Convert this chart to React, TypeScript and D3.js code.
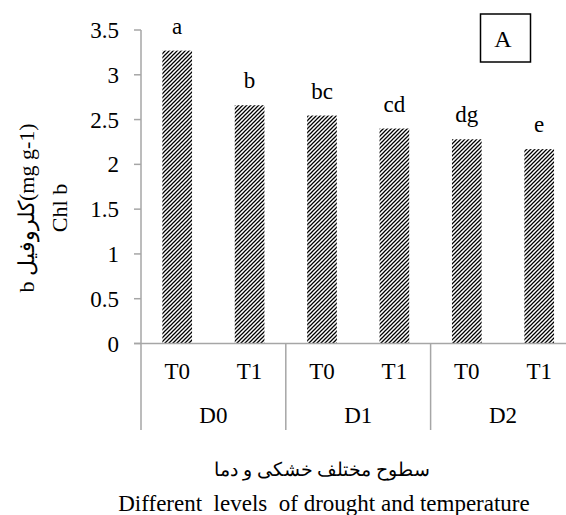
import React from "react";
import * as d3 from "d3";

const categories = ["T0", "T1", "T0", "T1", "T0", "T1"];
const groups = ["D0", "D1", "D2"];
const values = [3.27, 2.66, 2.545, 2.4, 2.28, 2.17];
const letters = ["a", "b", "bc", "cd", "dg", "e"];
const yTicks = [0, 0.5, 1, 1.5, 2, 2.5, 3, 3.5];

const W = 566;
const H = 515;
const serif = "Liberation Serif, Times New Roman, serif";
const axisColor = "#a6a6a6";

export default function App() {
  const y = d3.scaleLinear().domain([0, 3.5]).range([343.5, 30]);
  const x = d3
    .scaleBand<number>()
    .domain(d3.range(categories.length))
    .range([141, 575.4])
    .paddingInner(0.59)
    .paddingOuter(0.295);
  const step = x.step();
  const left = 141;
  const groupSize = 2;
  const fs = 23;

  return (
    <svg
      width={W}
      height={H}
      style={{ position: "absolute", left: 0, top: 0, background: "#fff" }}
    >
      <defs>
        <pattern id="hatch" patternUnits="userSpaceOnUse" width={4} height={4}>
          <rect width={4} height={4} fill="#fff" />
          <path d="M-1,1 l2,-2 M0,4 l4,-4 M3,5 l2,-2" stroke="#000" strokeWidth={1.25} />
        </pattern>
      </defs>
      <rect width={W} height={H} fill="#fff" />

      {values.map((v, i) => (
        <rect
          key={"b" + i}
          x={x(i)}
          y={y(v)}
          width={x.bandwidth()}
          height={y(0) - y(v)}
          fill="url(#hatch)"
        />
      ))}

      {values.map((v, i) => (
        <text
          key={"l" + i}
          x={(x(i) as number) + x.bandwidth() / 2}
          y={y(v) - 17}
          textAnchor="middle"
          fontFamily={serif}
          fontSize={fs}
          fill="#000"
        >
          {letters[i]}
        </text>
      ))}

      <line x1={left} x2={left} y1={y(3.5)} y2={430} stroke={axisColor} strokeWidth={1.5} />
      {yTicks.map((t) => (
        <g key={"t" + t}>
          <line x1={134} x2={left} y1={y(t)} y2={y(t)} stroke={axisColor} strokeWidth={1.5} />
          <text
            x={119}
            y={y(t)}
            dy="0.35em"
            textAnchor="end"
            fontFamily={serif}
            fontSize={fs}
            fill="#000"
          >
            {String(t)}
          </text>
        </g>
      ))}

      <line x1={134} x2={W} y1={y(0)} y2={y(0)} stroke={axisColor} strokeWidth={1.5} />
      {groups.map((g, gi) => (
        <line
          key={"s" + gi}
          x1={left + (gi + 1) * groupSize * step}
          x2={left + (gi + 1) * groupSize * step}
          y1={y(0)}
          y2={430}
          stroke={axisColor}
          strokeWidth={1.5}
        />
      ))}
      {categories.map((c, i) => (
        <text
          key={"c" + i}
          x={(x(i) as number) + x.bandwidth() / 2}
          y={379}
          textAnchor="middle"
          fontFamily={serif}
          fontSize={fs}
          fill="#000"
        >
          {c}
        </text>
      ))}
      {groups.map((g, gi) => (
        <text
          key={"g" + gi}
          x={left + (gi + 0.5) * groupSize * step}
          y={423}
          textAnchor="middle"
          fontFamily={serif}
          fontSize={fs}
          fill="#000"
        >
          {g}
        </text>
      ))}

      <text
        transform="translate(34,208) rotate(-90)"
        textAnchor="middle"
        fontFamily={serif}
        fontSize={22}
        fill="#000"
        direction="ltr"
      >
        b کلروفیل(mg g-1)
      </text>
      <text
        transform="translate(67,208) rotate(-90)"
        textAnchor="middle"
        fontFamily={serif}
        fontSize={22}
        fill="#000"
      >
        Chl b
      </text>

      <rect x={480.5} y={14} width={50} height={48} fill="none" stroke="#000" strokeWidth={1.5} />
      <text x={503} y={47} textAnchor="middle" fontFamily={serif} fontSize={24} fill="#000">
        A
      </text>

      <text x={322} y={476} textAnchor="middle" fontFamily={serif} fontSize={19} fill="#000">
        سطوح مختلف خشکی و دما
      </text>
      <text
        x={324}
        y={511}
        textAnchor="middle"
        fontFamily={serif}
        fontSize={fs}
        fill="#000"
        style={{ whiteSpace: "pre" }}
      >
        {"Different  levels  of drought and temperature"}
      </text>
    </svg>
  );
}
